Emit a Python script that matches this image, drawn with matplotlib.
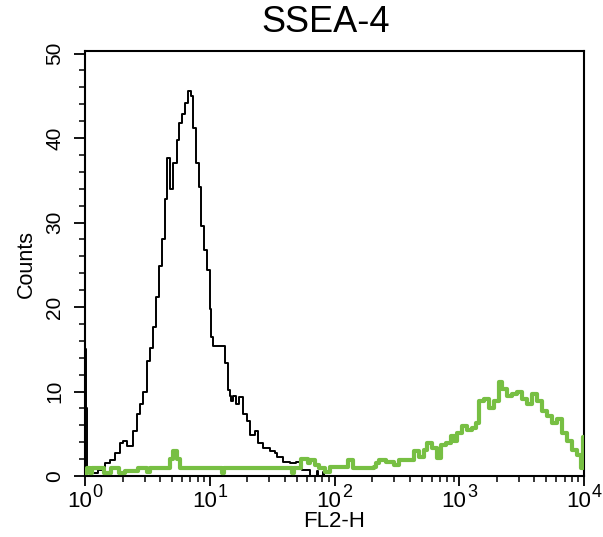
import numpy as np
import matplotlib
matplotlib.use("Agg")
import matplotlib.pyplot as plt
from matplotlib.ticker import LogLocator, MultipleLocator, NullFormatter

plt.rcParams['font.family'] = ['Liberation Sans', 'DejaVu Sans']

# FL2-H histogram, 1024 channels over 4 decades
canal_negro = [0, 2, 4, 27, 41, 51, 61, 72, 78, 86, 96, 98, 106, 113, 119, 127, 133, 139,
               145, 152, 158, 164, 168, 174, 180, 188, 193, 199, 205, 211, 217, 221, 227,
               233, 238, 244, 250, 256, 259, 262, 287, 293, 297, 300, 303, 310, 317, 324,
               332, 338, 348, 354, 365, 379, 389, 395, 406, 420, 434, 444, 446, 461, 476,
               479, 488, 491, 1024]
conteo_negro = [15, 8, 0.3, 0.7, 1.5, 1.9, 2.7, 3.9, 4.1, 3.5, 3.5, 5.3, 7.3, 8.5, 10, 13.6,
                15.2, 17.6, 21.2, 24.8, 28, 32.8, 37.6, 34, 37, 39.8, 41.8, 42.8, 44.2, 45.6,
                45, 41.2, 37, 34.2, 29.6, 26.8, 24.4, 19.8, 16.4, 15.4, 13.4, 10.2, 9.5, 8.9,
                9.5, 8.5, 9.3, 7.3, 6.5, 4.9, 5.3, 3.9, 3.3, 2.9, 2.7, 2.3, 1.7, 1.5, 1.7, 1.3,
                0.7, 0, 0.6, 0, 0.5, 0, 0]

canal_verde = [0, 4, 10, 14, 39, 53, 70, 82, 109, 127, 133, 174, 180, 188, 195, 281, 285,
               424, 428, 444, 457, 461, 471, 481, 492, 502, 532, 539, 549, 594, 598, 604,
               618, 635, 645, 672, 676, 686, 696, 702, 713, 723, 731, 741, 752, 758, 764,
               774, 784, 795, 803, 809, 819, 829, 840, 850, 856, 866, 877, 887, 897, 907,
               917, 928, 938, 948, 958, 969, 979, 989, 999, 1010, 1018, 1022, 1024]
conteo_verde = [0.3, 1.0, 0.3, 1.0, 0.4, 1.0, 0.4, 0.6, 1.0, 0.5, 1.0, 2.0, 3.0, 2.0, 1.0,
                0.4, 1.0, 0.4, 1.0, 2.0, 1.5, 1.9, 1.3, 0.9, 0.5, 1.1, 1.1, 1.9, 0.9, 1.1,
                1.5, 1.9, 1.7, 1.3, 1.9, 1.9, 2.9, 2.3, 3.1, 3.9, 3.3, 2.1, 3.7, 3.9, 4.7,
                4.1, 5.1, 5.9, 5.5, 5.7, 6.3, 8.9, 9.1, 8.1, 8.9, 11.1, 10.3, 9.5, 9.7, 9.9,
                9.1, 8.5, 9.7, 8.9, 7.7, 7.1, 6.3, 6.7, 5.1, 4.1, 3.1, 2.5, 0.9, 4.6, 4.6]

exponentes = [0, 1, 2, 3, 4]

def a_fl2(canales):
    return 10 ** (np.array(canales) / 256.0)

fig = plt.figure(figsize=(6.03, 5.37), dpi=100)
ax = fig.add_axes([85 / 603, 1 - 476 / 537, (584 - 85) / 603, (476 - 51) / 537])

ax.step(a_fl2(canal_negro), conteo_negro, where='post', color='black', lw=1.4, zorder=2)
ax.step(a_fl2(canal_verde), conteo_verde, where='post', color='#77bf43', lw=3.0, zorder=3)

ax.set_xscale('log')
ax.set_xlim(1, 1e4)
ax.set_ylim(0, 50.3)
ax.xaxis.set_major_locator(LogLocator(base=10, numticks=10))
ax.xaxis.set_minor_locator(LogLocator(base=10, subs=np.arange(2, 10), numticks=20))
ax.xaxis.set_major_formatter(NullFormatter())
ax.xaxis.set_minor_formatter(NullFormatter())
ax.yaxis.set_major_locator(MultipleLocator(10))
ax.yaxis.set_minor_locator(MultipleLocator(2))

for s in ax.spines.values():
    s.set_linewidth(1.5)

ax.tick_params(axis='x', which='major', length=7, width=1.3)
ax.tick_params(axis='x', which='minor', length=4, width=1.1)
ax.tick_params(axis='y', which='major', length=8, width=1.3, labelsize=15, pad=7)
ax.tick_params(axis='y', which='minor', length=4, width=1.1)
for lab in ax.get_yticklabels():
    lab.set_rotation(90)
    lab.set_va('center')

# etiquetas 10^n con exponente grande, como en el original
for e in exponentes:
    ax.annotate('10', xy=(10 ** e, 0), xycoords=('data', 'axes fraction'),
                xytext=(5, -11), textcoords='offset points', ha='right', va='top',
                fontsize=16, annotation_clip=False)
    ax.annotate(str(e), xy=(10 ** e, 0), xycoords=('data', 'axes fraction'),
                xytext=(5.5, -6), textcoords='offset points', ha='left', va='top',
                fontsize=13, annotation_clip=False)

ax.set_xlabel('FL2-H', fontsize=16, labelpad=15)
ax.set_ylabel('Counts', fontsize=15.5, labelpad=6)
fig.text(326 / 603, 1 - 22 / 537, 'SSEA-4', fontsize=26, ha='center', va='center')

plt.savefig('out.png', dpi=100)
